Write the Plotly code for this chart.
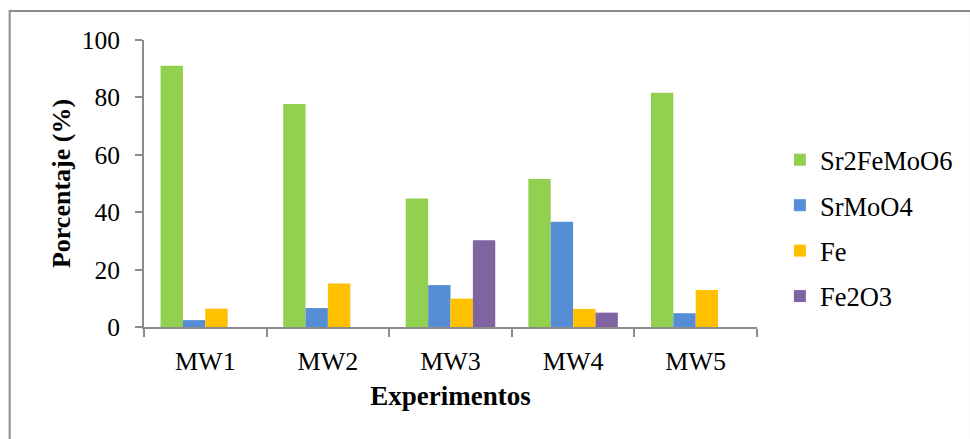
import plotly.graph_objects as go

# Phase percentages per microwave synthesis experiment
experiments = ["MW1", "MW2", "MW3", "MW4", "MW5"]
sr2femoo6 = [91.0, 77.7, 44.8, 51.6, 81.6]
srmoo4 = [2.4, 6.6, 14.6, 36.7, 4.8]
fe = [6.4, 15.2, 9.9, 6.3, 12.9]
fe2o3 = [None, None, 30.2, 5.0, None]

series = [
    ("Sr2FeMoO6", sr2femoo6, "#92D050"),
    ("SrMoO4", srmoo4, "#558ED5"),
    ("Fe", fe, "#FFC000"),
    ("Fe2O3", fe2o3, "#8064A2"),
]

FONT = "Liberation Serif"
AXIS_GREY = "#8C8C8C"

fig = go.Figure()
for name, values, color in series:
    fig.add_trace(go.Bar(
        x=experiments, y=values, name=name, legendgroup=name,
        marker=dict(color=color, line=dict(width=0)),
    ))

W, H = 970, 439
L, R, T, B = 144, 210, 40, 112
pw, ph = W - L - R, H - T - B


def px_x(v):
    return (v - L) / pw


def px_y(v):
    return (H - B - v) / ph


def serif(size):
    return dict(family=FONT, size=size, color="black")


fig.update_layout(
    width=W, height=H,
    margin=dict(l=L, r=R, t=T, b=B),
    paper_bgcolor="white", plot_bgcolor="white",
    barmode="group", bargap=0.27, bargroupgap=0,
    font=serif(26),
    showlegend=True,
    legend=dict(
        x=px_x(783), xanchor="left",
        y=px_y(228), yanchor="middle",
        traceorder="grouped", tracegroupgap=8,
        font=serif(26.5),
        bgcolor="rgba(0,0,0,0)",
    ),
    xaxis=dict(
        type="category",
        showline=True, linecolor=AXIS_GREY, linewidth=2,
        ticks="outside", tickson="boundaries", ticklen=8,
        tickcolor=AXIS_GREY, tickwidth=2,
        showgrid=False, zeroline=False,
        ticklabelstandoff=10,
        tickfont=serif(26),
        title=dict(text="<b>Experimentos</b>", standoff=11, font=serif(27)),
    ),
    yaxis=dict(
        range=[0, 100], dtick=20,
        showline=True, linecolor=AXIS_GREY, linewidth=2,
        ticks="outside", ticklen=7, tickcolor=AXIS_GREY, tickwidth=2,
        showgrid=False, zeroline=False,
        ticklabelstandoff=10,
        tickfont=serif(25.5),
        title=dict(text="<b>Porcentaje (%)</b>", standoff=4, font=serif(26)),
    ),
    shapes=[dict(
        type="rect", xref="paper", yref="paper",
        x0=px_x(9), x1=px_x(975), y0=px_y(445), y1=px_y(11),
        line=dict(color=AXIS_GREY, width=2), fillcolor="rgba(0,0,0,0)",
        layer="below",
    )],
)

fig.write_html("out.html")
